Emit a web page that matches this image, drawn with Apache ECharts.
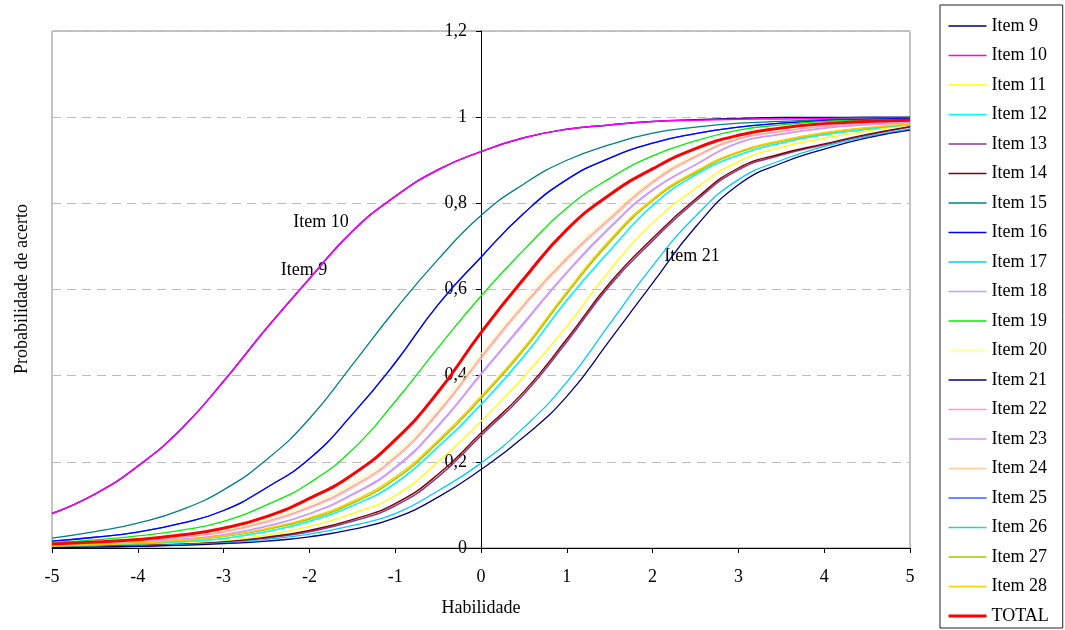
<!DOCTYPE html>
<html><head><meta charset="utf-8">
<script src="https://cdn.jsdelivr.net/npm/echarts@6/dist/echarts.min.js"></script>
<style>html,body{margin:0;padding:0;background:#fff}#c{width:1065px;height:630px}</style>
</head><body><div id="c"></div>
<script>
// Ability values (x) at which the curves were read
const habilidade = [-5,-4.5,-4,-3.5,-3,-2.5,-2,-1.5,-1,-0.5,0,0.5,1,1.5,2,2.5,3,3.5,4,4.5,5];
const xTickLabels = ['-5','-4','-3','-2','-1','0','1','2','3','4','5'];
const yTickLabels = ['0','0,2','0,4','0,6','0,8','1','1,2'];

const item9  = [0.080,0.125,0.190,0.275,0.387,0.510,0.625,0.735,0.816,0.878,0.920,0.952,0.972,0.982,0.990,0.994,0.997,0.999,0.999,1.000,1.000];
const item10 = [0.080,0.125,0.190,0.275,0.387,0.510,0.625,0.735,0.816,0.878,0.920,0.952,0.972,0.982,0.990,0.993,0.995,0.996,0.997,0.998,0.998];
const item11 = [0.003,0.005,0.007,0.010,0.016,0.030,0.050,0.080,0.122,0.200,0.294,0.398,0.515,0.645,0.754,0.835,0.897,0.930,0.951,0.968,0.982];
const item12 = [0.004,0.006,0.009,0.014,0.022,0.038,0.062,0.098,0.150,0.235,0.333,0.445,0.575,0.690,0.795,0.866,0.912,0.940,0.959,0.972,0.982];
const item13 = [0.002,0.003,0.005,0.008,0.013,0.023,0.038,0.062,0.098,0.165,0.261,0.357,0.479,0.609,0.713,0.805,0.878,0.912,0.936,0.958,0.977];
const item14 = [0.002,0.004,0.006,0.009,0.014,0.025,0.041,0.066,0.103,0.171,0.267,0.363,0.485,0.615,0.719,0.810,0.882,0.915,0.938,0.960,0.978];
const item15 = [0.023,0.038,0.058,0.088,0.135,0.205,0.300,0.425,0.553,0.670,0.772,0.845,0.900,0.936,0.963,0.977,0.986,0.990,0.994,0.996,0.998];
const item16 = [0.016,0.025,0.037,0.057,0.087,0.140,0.207,0.310,0.430,0.565,0.675,0.777,0.855,0.905,0.940,0.962,0.977,0.986,0.992,0.995,0.997];
const item17 = [0.002,0.003,0.005,0.008,0.012,0.020,0.032,0.052,0.080,0.133,0.197,0.280,0.385,0.520,0.655,0.770,0.855,0.900,0.932,0.955,0.973];
const item18 = [0.005,0.008,0.013,0.020,0.031,0.051,0.080,0.125,0.188,0.285,0.405,0.524,0.641,0.745,0.832,0.890,0.941,0.961,0.975,0.983,0.988];
const item19 = [0.013,0.019,0.028,0.041,0.062,0.100,0.151,0.228,0.340,0.465,0.585,0.692,0.789,0.858,0.910,0.945,0.970,0.982,0.990,0.993,0.995];
const item20 = [0.007,0.011,0.017,0.026,0.040,0.066,0.101,0.150,0.218,0.323,0.450,0.572,0.680,0.771,0.855,0.912,0.952,0.969,0.980,0.987,0.991];
const item21 = [0.001,0.002,0.004,0.006,0.010,0.016,0.026,0.043,0.070,0.118,0.182,0.258,0.352,0.482,0.615,0.745,0.843,0.893,0.926,0.952,0.970];
const item22 = [0.006,0.010,0.016,0.025,0.038,0.062,0.095,0.143,0.211,0.315,0.443,0.565,0.673,0.765,0.850,0.909,0.950,0.967,0.979,0.986,0.990];
const item23 = [0.005,0.008,0.013,0.020,0.030,0.050,0.079,0.123,0.185,0.282,0.402,0.520,0.638,0.742,0.830,0.889,0.940,0.960,0.974,0.982,0.987];
const item24 = [0.006,0.010,0.015,0.024,0.036,0.059,0.092,0.139,0.207,0.311,0.438,0.560,0.668,0.760,0.846,0.906,0.948,0.966,0.978,0.985,0.989];
const item25 = [0.016,0.025,0.037,0.057,0.087,0.140,0.207,0.310,0.430,0.565,0.675,0.777,0.855,0.905,0.940,0.962,0.977,0.986,0.992,0.995,0.997];
const item26 = [0.004,0.006,0.009,0.014,0.022,0.038,0.062,0.098,0.150,0.235,0.333,0.445,0.575,0.690,0.795,0.866,0.912,0.940,0.959,0.972,0.982];
const item27 = [0.004,0.007,0.011,0.017,0.027,0.043,0.067,0.104,0.160,0.245,0.347,0.460,0.590,0.710,0.806,0.871,0.918,0.944,0.963,0.975,0.983];
const item28 = [0.005,0.008,0.012,0.018,0.028,0.045,0.070,0.108,0.165,0.250,0.352,0.465,0.595,0.715,0.810,0.874,0.920,0.946,0.964,0.976,0.984];
const total  = [0.009,0.014,0.020,0.030,0.046,0.073,0.115,0.170,0.251,0.362,0.500,0.625,0.739,0.820,0.880,0.927,0.958,0.975,0.985,0.990,0.993];

const legendOrder = ['Item 9','Item 10','Item 11','Item 12','Item 13','Item 14','Item 15','Item 16','Item 17','Item 18','Item 19','Item 20','Item 21','Item 22','Item 23','Item 24','Item 25','Item 26','Item 27','Item 28','TOTAL'];

// drawing order (hidden curves first)
const seriesDefs = [
  ['Item 25', item25, '#3366FF', 1.3],
  ['Item 26', item26, '#33CCCC', 1.3],
  ['Item 24', item24, '#FFCC99', 1.3],
  ['Item 9',  item9,  '#000080', 1.5],
  ['Item 10', item10, '#FF00FF', 1.5],
  ['Item 11', item11, '#FFFF00', 1.3],
  ['Item 12', item12, '#00FFFF', 1.3],
  ['Item 13', item13, '#8B3A8B', 1.6],
  ['Item 14', item14, '#800000', 1.4],
  ['Item 15', item15, '#008080', 1.3],
  ['Item 16', item16, '#0000FF', 1.3],
  ['Item 17', item17, '#00CCFF', 1.3],
  ['Item 18', item18, '#CC99FF', 1.3],
  ['Item 19', item19, '#00EE00', 1.3],
  ['Item 20', item20, '#FFFF99', 1.3],
  ['Item 21', item21, '#000080', 1.3],
  ['Item 22', item22, '#FF99CC', 1.3],
  ['Item 23', item23, '#CC99FF', 1.3],
  ['Item 27', item27, '#99CC00', 1.6],
  ['Item 28', item28, '#FFCC00', 1.5],
  ['TOTAL',   total,  '#FF0000', 3]
];

const FONT = 'Liberation Serif';
const GRID = {left:52, right:155, top:31, bottom:82};
const plotWidth = 1065 - GRID.left - GRID.right;
const xMin = -5, xMax = 5;
// y axis sits on x = 0
const yAxisOffset = -plotWidth * (0 - xMin) / (xMax - xMin);

const legendData = legendOrder.map(n => n === 'TOTAL' ? {name:n, lineStyle:{width:3}} : {name:n, lineStyle:{width:1.6}});

const chart = echarts.init(document.getElementById('c'), null, {renderer:'canvas'});
chart.setOption({
  animation:false,
  backgroundColor:'#fff',
  grid:Object.assign({show:true,borderColor:'#888',borderWidth:1,backgroundColor:'transparent'}, GRID),
  legend:{
    data:legendData, orient:'vertical', left:940, top:5, height:620,
    itemWidth:38, itemHeight:14, itemGap:11.5,
    padding:[12,14,3,7],
    borderColor:'#222', borderWidth:1,
    itemStyle:{opacity:0},
    textStyle:{fontFamily:FONT,fontSize:18,color:'#000'},
    selectedMode:false
  },
  xAxis:{
    type:'value', min:xMin, max:xMax, interval:1,
    name:'Habilidade', nameLocation:'middle', nameGap:51,
    nameTextStyle:{fontFamily:FONT,fontSize:18,color:'#000'},
    axisLine:{show:true,lineStyle:{color:'#000',width:1}},
    axisTick:{show:true,length:5,lineStyle:{color:'#000'}},
    axisLabel:{fontFamily:FONT,fontSize:18,color:'#000',margin:20,
      formatter:(v)=>xTickLabels[Math.round(v)+5]},
    splitLine:{show:false}
  },
  yAxis:{
    type:'value', min:0, max:1.2, interval:0.2, position:'left', offset:yAxisOffset,
    axisLine:{show:true,onZero:false,lineStyle:{color:'#000',width:1}},
    axisTick:{show:true,length:5,lineStyle:{color:'#000'}},
    axisLabel:{fontFamily:FONT,fontSize:18,color:'#000',margin:14,
      formatter:(v)=>yTickLabels[Math.round(v*5)]},
    splitLine:{show:true,lineStyle:{color:'#bdbdbd',type:[9,6],width:1}}
  },
  graphic:[
    {type:'text',x:22,y:289,rotation:Math.PI/2,style:{text:'Probabilidade de acerto',font:'18px "Liberation Serif"',fill:'#000',textAlign:'center',textVerticalAlign:'middle'}},
    {type:'text',x:321,y:222,style:{text:'Item 10',font:'18px "Liberation Serif"',fill:'#000',textAlign:'center',textVerticalAlign:'middle'}},
    {type:'text',x:304,y:270,style:{text:'Item 9',font:'18px "Liberation Serif"',fill:'#000',textAlign:'center',textVerticalAlign:'middle'}},
    {type:'text',x:692,y:256,style:{text:'Item 21',font:'18px "Liberation Serif"',fill:'#000',textAlign:'center',textVerticalAlign:'middle'}}
  ],
  series:seriesDefs.map(([name,vals,color,w])=>({
    name, type:'line', symbol:'none', smooth:0.5,
    data:habilidade.map((x,i)=>[x,vals[i]]),
    lineStyle:{color,width:w}, itemStyle:{color},
    emphasis:{disabled:true}
  }))
});
</script></body></html>
